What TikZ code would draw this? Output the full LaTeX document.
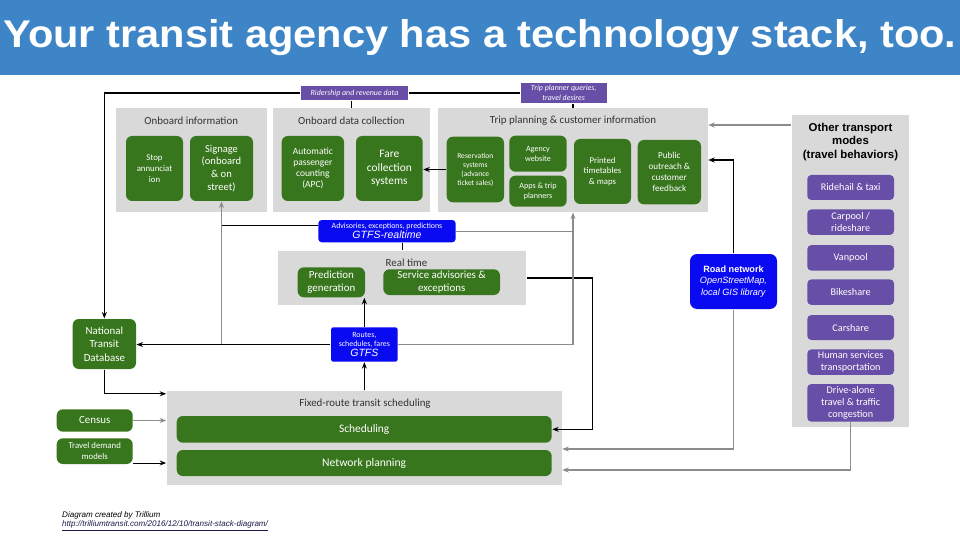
\documentclass[tikz,border=0pt]{standalone}
\usepackage{fontspec}
\setmainfont{Carlito}
\newfontfamily\arialfont{Liberation Sans}
\usepackage{tikz}
\usetikzlibrary{arrows.meta,positioning,calc}
\definecolor{TrGreen}{HTML}{38761D}
\definecolor{TrPurple}{HTML}{674EA7}
\definecolor{TrBlue}{HTML}{0A0AF2}
\definecolor{TrPanel}{HTML}{D9D9D9}
\definecolor{TrGray}{HTML}{8C8C8C}
\definecolor{TrTitle}{HTML}{3D85C6}
\definecolor{TrLink}{HTML}{1A1A4A}
\newcommand{\fsz}[2]{\fontsize{#1}{#2}\selectfont}

\begin{document}
\begin{tikzpicture}[>={Stealth[length=1.3mm,width=1mm]}, line width=0.6pt,
  panel/.style={fill=TrPanel, inner sep=0pt},
  ptitle/.style={font=\fsz{6.2}{7.4}, text=black!80},
  gbox/.style={rounded corners=3.5pt, fill=TrGreen, text=white, align=center, inner sep=0.5pt},
  pbox/.style={rounded corners=2.3pt, fill=TrPurple, text=white, align=center, inner sep=0.5pt, minimum width=1.734cm, font=\fsz{5.8}{6.8}},
  bbox/.style={fill=TrBlue, text=white, align=center, inner sep=0.5pt},
  tag/.style={fill=TrPurple, text=white, align=center, inner sep=0.5pt, font=\itshape\fsz{4.5}{5.4}},
  barrow/.style={->, black},
  garrow/.style={->, TrGray},
  gline/.style={TrGray}]
\useasboundingbox (0,0) rectangle (19.2,-10.8);
\fill[white] (0,0) rectangle (19.2,-10.8);
% title bar
\fill[TrTitle] (0,0) rectangle (19.2,-1.5);
\node[font=\arialfont\bfseries\fsz{22}{26}, text=white, inner sep=0pt] (title) at (9.6,-0.76) {\scalebox{1.075}[1]{Your transit agency has a technology stack, too.}};

% panels
\node[panel, minimum width=3.02cm, minimum height=2.074cm] (obi) at (3.824,-3.203) {};
\node[panel, minimum width=3.146cm, minimum height=2.074cm] (odc) at (7.027,-3.203) {};
\node[panel, minimum width=5.388cm, minimum height=2.074cm] (trip) at (11.46,-3.203) {};
\node[panel, minimum width=4.954cm, minimum height=1.08cm] (rt) at (8.043,-5.56) {};
\node[panel, minimum width=7.9cm, minimum height=1.88cm] (fixed) at (7.284,-8.76) {};
\node[panel, minimum width=2.352cm, minimum height=6.234cm] (otm) at (17.01,-5.417) {};
\node[ptitle] (obititle) at (3.824,-2.42) {Onboard information};
\node[ptitle] (odctitle) at (7.027,-2.42) {Onboard data collection};
\node[ptitle] (triptitle) at (11.46,-2.42) {Trip planning \& customer information};
\node[ptitle] (rttitle) at (8.13,-5.26) {Real time};
\node[ptitle] (fixedtitle) at (7.3,-8.08) {Fixed-route transit scheduling};
\node[font=\arialfont\bfseries\fsz{6.5}{7.9}, align=center] (otmtitle) at (17.01,-2.84) {Other transport\\modes\\(travel behaviors)};

% onboard information
\node[gbox, minimum width=1.14cm, minimum height=1.3cm, font=\fsz{5}{6.2}] (stop) at (3.09,-3.37) {Stop\\annunciat\\ion};
\node[gbox, minimum width=1.26cm, minimum height=1.3cm, font=\fsz{6}{7.3}] (sign) at (4.43,-3.37) {Signage\\(onboard\\\& on\\street)};
% onboard data collection
\node[gbox, minimum width=1.246cm, minimum height=1.3cm, font=\fsz{5.4}{6.4}] (apc) at (6.257,-3.37) {Automatic\\passenger\\counting\\(APC)};
\node[gbox, minimum width=1.334cm, minimum height=1.3cm, font=\fsz{6.5}{7.6}] (fare) at (7.787,-3.37) {Fare\\collection\\systems};
% trip planning
\node[gbox, minimum width=1.146cm, minimum height=1.312cm, font=\fsz{4.3}{5.1}] (res) at (9.507,-3.39) {Reservation\\systems\\(advance\\ticket sales)};
\node[gbox, minimum width=1.148cm, minimum height=0.72cm, font=\fsz{4.6}{5.5}] (web) at (10.76,-3.074) {Agency\\website};
\node[gbox, minimum width=1.148cm, minimum height=0.62cm, font=\fsz{4.6}{5.5}] (apps) at (10.76,-3.824) {Apps \& trip\\planners};
\node[gbox, minimum width=1.14cm, minimum height=1.3cm, font=\fsz{5}{6.1}] (print) at (12.05,-3.43) {Printed\\timetables\\\& maps};
\node[gbox, minimum width=1.266cm, minimum height=1.286cm, font=\fsz{5.2}{6.3}] (pub) at (13.387,-3.443) {Public\\outreach \&\\customer\\feedback};
% real time
\node[gbox, minimum width=1.346cm, minimum height=0.6cm, font=\fsz{6.2}{7.4}] (pred) at (6.627,-5.646) {Prediction\\generation};
\node[gbox, minimum width=2.334cm, minimum height=0.514cm, font=\fsz{6.2}{7.2}] (sadv) at (8.833,-5.643) {Service advisories \&\\exceptions};
% scheduling and inputs
\node[gbox, minimum width=1.266cm, minimum height=1.0cm, font=\fsz{6.2}{7.6}] (ntd) at (2.087,-6.88) {National\\Transit\\Database};
\node[gbox, minimum width=1.52cm, minimum height=0.448cm, font=\fsz{6.2}{7.4}] (census) at (1.894,-8.41) {Census};
\node[gbox, minimum width=1.52cm, minimum height=0.514cm, font=\fsz{5}{6}] (tdm) at (1.894,-9.023) {Travel demand\\models};
\node[gbox, minimum width=7.5cm, minimum height=0.534cm, font=\fsz{6.5}{7.6}] (sched) at (7.284,-8.587) {Scheduling};
\node[gbox, minimum width=7.5cm, minimum height=0.52cm, font=\fsz{6.6}{7.8}] (netpl) at (7.284,-9.26) {Network planning};

% other transport modes
\node[pbox, minimum height=0.5cm] (ride) at (17.013,-3.75) {Ridehail \& taxi};
\node[pbox, minimum height=0.51cm] (carpool) at (17.013,-4.443) {Carpool /\\rideshare};
\node[pbox, minimum height=0.51cm] (van) at (17.013,-5.157) {Vanpool};
\node[pbox, minimum height=0.51cm] (bike) at (17.013,-5.843) {Bikeshare};
\node[pbox, minimum height=0.5cm] (car) at (17.013,-6.55) {Carshare};
\node[pbox, minimum height=0.51cm] (human) at (17.013,-7.243) {Human services\\transportation};
\node[pbox, minimum height=0.754cm] (drive) at (17.013,-8.057) {Drive-alone\\travel \& traffic\\congestion};

% data tags
\node[tag, minimum width=2.14cm, minimum height=0.28cm] (rrd) at (7.09,-1.86) {Ridership and revenue data};
\node[tag, minimum width=1.72cm, minimum height=0.4cm] (tpq) at (11.274,-1.86) {Trip planner queries,\\travel desires};
\node[bbox, rounded corners=2pt, minimum width=2.748cm, minimum height=0.446cm, font=\fsz{4.5}{5.8}] (gtfsrt) at (7.74,-4.623) {Advisories, exceptions, predictions\\{\arialfont\itshape\fsz{6}{6}GTFS-realtime}};
\node[bbox, rounded corners=1pt, minimum width=1.334cm, minimum height=0.684cm, font=\fsz{4.5}{5.4}] (gtfs) at (7.287,-6.89) {Routes,\\schedules, fares\\{\arialfont\itshape\fsz{6}{6}GTFS}};
\node[bbox, rounded corners=4pt, minimum width=1.74cm, minimum height=1.1cm, font=\arialfont\fsz{5.2}{6.6}] (road) at (14.67,-5.63) {\textbf{Road network}\\\textit{OpenStreetMap,}\\\textit{local GIS library}};

% connectors
\draw (tpq.west) -- (rrd.east);
\draw[barrow] (rrd.west) -| (ntd.north);
\draw (odc.north) -- (odc.north |- rrd.south);
\draw (trip.north) -- (trip.north |- tpq.south);
\draw[garrow] (otm.west |- 0,-2.5) -- (trip.east |- 0,-2.5);
\draw[barrow] (road.north) |- (trip.east |- 0,-3.2);
\draw[garrow] (road.south) |- (fixed.east |- 0,-8.98);
\draw[garrow] (drive.south) |- (fixed.east |- 0,-9.4);
\draw[barrow] (rt.east) -| ([xshift=6mm]sched.east -| fixed.east) -- (sched.east);
\draw[barrow] (res.west) -- (res.west -| fare.east);
\draw (rt.north) -- (rt.north |- gtfsrt.south);
\draw ([yshift=1.2mm]gtfsrt.west) -- ([yshift=1.2mm]gtfsrt.west -| sign.south);
\draw[gline] (gtfsrt.east) -- (gtfsrt.east -| trip.south);
\draw[garrow] (gtfs.west -| sign.south) -- (sign.south);
\draw[barrow] (gtfs.west) -- (gtfs.west -| ntd.east);
\draw[garrow] (gtfs.east) -| (trip.south);
\draw[barrow] (gtfs.north) -- (gtfs.north |- pred.south);
\draw[barrow] (gtfs.south |- fixed.north) -- (gtfs.south);
\draw[barrow] (ntd.south) |- ([yshift=-0.66mm]fixed.north west);
\draw[garrow] (census.east) -- (census.east -| fixed.west);
\draw[barrow] ([yshift=0.3mm]tdm.south east) -- ([yshift=0.3mm]tdm.south east -| fixed.west);

% credit
\node[anchor=west, inner sep=0pt, font=\arialfont\itshape\fsz{4.6}{5.5}] (credit) at (1.234,-10.3) {Diagram created by Trillium};
\node[anchor=west, inner sep=0pt, font=\arialfont\itshape\fsz{4.6}{5.5}, text=TrLink] (link) at (1.234,-10.52) {\underline{http://trilliumtransit.com/2016/12/10/transit-stack-diagram/}};
\end{tikzpicture}
\end{document}
